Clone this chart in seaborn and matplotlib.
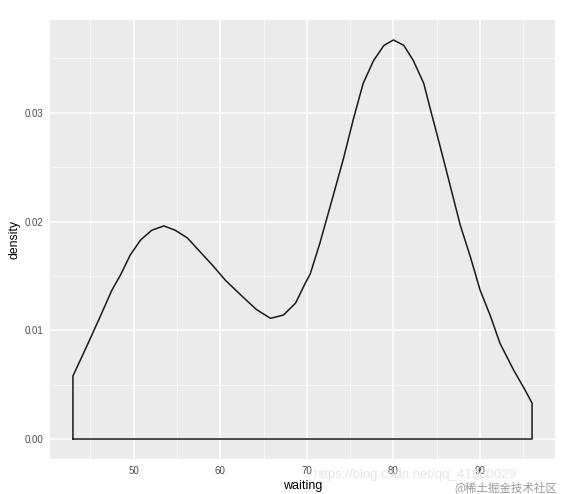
import numpy as np
import pandas as pd
import matplotlib.pyplot as plt
import seaborn as sns
from matplotlib.ticker import MultipleLocator

# density curve of "waiting"
waiting = [43.0, 44.4, 46.0, 47.5, 48.5, 49.6, 50.8, 52.1, 53.5, 54.8,
           56.2, 57.7, 59.2, 60.6, 62.7, 64.2, 65.8, 67.3, 68.7, 69.8,
           70.4, 71.5, 72.7, 74.2, 75.4, 76.5, 77.7, 78.9, 80.0, 81.2,
           82.3, 83.5, 84.4, 85.0, 86.2, 87.7, 88.9, 90.0, 91.2, 92.3,
           93.9, 95.2, 96.0]
density = [0.0058, 0.0082, 0.0110, 0.0137, 0.0151, 0.0169, 0.0183, 0.0192, 0.0196, 0.0192,
           0.0185, 0.0172, 0.0159, 0.0146, 0.0130, 0.0119, 0.0111, 0.0114, 0.0125, 0.0143,
           0.0152, 0.0180, 0.0214, 0.0257, 0.0295, 0.0327, 0.0348, 0.0362, 0.0367, 0.0362,
           0.0348, 0.0327, 0.0299, 0.0281, 0.0244, 0.0197, 0.0167, 0.0137, 0.0113, 0.0088,
           0.0063, 0.0045, 0.0033]

x_ticks = [50, 60, 70, 80, 90]
y_ticks = [0.00, 0.01, 0.02, 0.03]
y_labels = ["0.00", "0.01", "0.02", "0.03"]

# closed outline like geom_density: baseline -> curve -> baseline
outline = pd.DataFrame({
    "waiting": [waiting[0]] + waiting + [waiting[-1], waiting[0]],
    "density": [0.0] + density + [0.0, 0.0],
})

sns.set_theme(style="darkgrid", rc={
    "axes.facecolor": "#EBEBEB",
    "grid.color": "white",
    "axes.edgecolor": "#EBEBEB",
    "xtick.color": "#4D4D4D",
    "ytick.color": "#4D4D4D",
    "axes.labelcolor": "black",
})
plt.rcParams['font.family'] = ['Liberation Sans', 'Noto Sans CJK SC']

fig = plt.figure(figsize=(5.63, 4.94), dpi=100)
ax = fig.add_axes([0.0888, 0.0709, 0.8970, 0.8886])

sns.lineplot(data=outline, x="waiting", y="density", sort=False,
             color="#1a1a1a", linewidth=1.1, ax=ax, estimator=None)

span = waiting[-1] - waiting[0]
ax.set_xlim(waiting[0] - 0.05 * span, waiting[-1] + 0.05 * span)
top = max(density)
ax.set_ylim(-0.05 * top, top * 1.05)

ax.set_xticks(x_ticks)
ax.set_yticks(y_ticks)
ax.set_yticklabels(y_labels)
ax.xaxis.set_minor_locator(MultipleLocator(5))
ax.yaxis.set_minor_locator(MultipleLocator(0.005))
ax.grid(which="major", color="white", linewidth=1.1)
ax.grid(which="minor", color="white", linewidth=0.5, alpha=0.8)
ax.tick_params(axis="both", which="major", length=3, width=0.8,
               color="#333333", labelsize=7, pad=2)
ax.tick_params(which="minor", length=0)
for s in ax.spines.values():
    s.set_visible(False)

ax.set_xlabel("waiting", fontsize=9, labelpad=3)
ax.set_ylabel("density", fontsize=8.8, labelpad=3)

# watermarks from the source image
fig.text(0.556, 0.032, "https://blog.csdn.net/qq_41960029", fontsize=9.5,
         color="#E2E2E2", alpha=0.9)
fig.text(0.99, 0.005, "@稀土掘金技术社区", fontsize=8.3, color="#9A9A9A",
         ha="right", family=['Noto Sans CJK SC', 'DejaVu Sans'])

fig.savefig("out.png", dpi=100)
